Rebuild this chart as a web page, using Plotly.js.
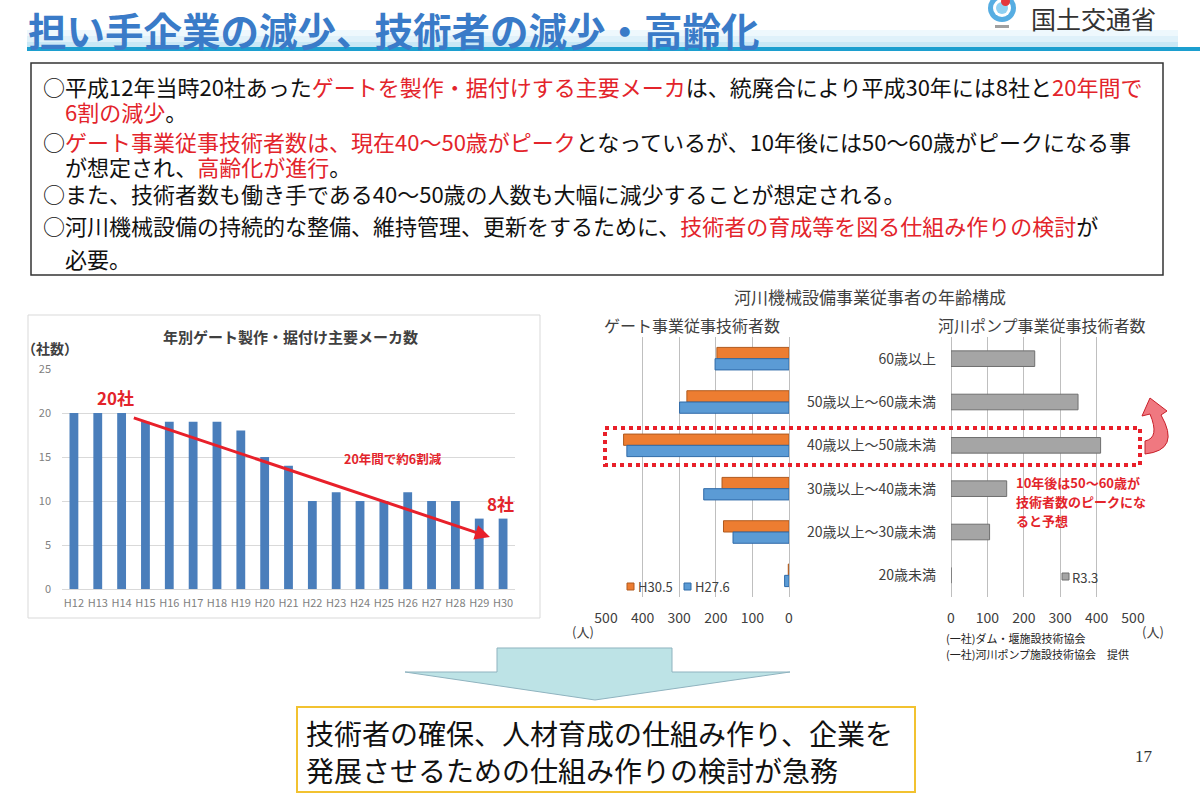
<!DOCTYPE html>
<html>
<head>
<meta charset="utf-8">
<script src="https://cdn.plot.ly/plotly-3.0.1.min.js"></script>
<style>
  body { margin: 0; background: #fff; }
  #slide { width: 1200px; height: 798px; }
</style>
</head>
<body>
<div id="slide"></div>
<script>
// 年別ゲート製作・据付け主要メーカ数
var years = ["H12","H13","H14","H15","H16","H17","H18","H19","H20","H21","H22","H23","H24","H25","H26","H27","H28","H29","H30"];
var makers = [20,20,20,19,19,19,19,18,15,14,10,11,10,10,11,10,10,8,8];

// 河川機械設備事業従事者の年齢構成
var ageGroups = ["60歳以上","50歳以上～60歳未満","40歳以上～50歳未満","30歳以上～40歳未満","20歳以上～30歳未満","20歳未満"];
var gateH305 = [197,279,452,183,179,2];
var gateH276 = [202,299,443,233,153,12];
var pumpR33 = [230,349,411,153,106,0];

var W = 1200, H = 798;
var FONT = "Noto Sans CJK JP";
var RED = "#e3242b";
var ORANGE = "#ed7d31", BLUE = "#5b9bd5", GRAY = "#a5a5a5";

function px(x) { return x / W; }
function py(y) { return 1 - y / H; }
function pt(x, y) { return px(x).toFixed(5) + "," + py(y).toFixed(5); }

function txt(x, y, text, size, color, opt) {
  var a = {
    xref: "paper", yref: "paper", x: px(x), y: py(y),
    text: text, showarrow: false,
    font: {family: FONT, size: size, color: color},
    xanchor: "center", yanchor: "middle", borderpad: 0
  };
  for (var k in (opt || {})) a[k] = opt[k];
  return a;
}

function rect(x0, y0, x1, y1, fill, line, lw) {
  return {
    type: "rect", xref: "paper", yref: "paper",
    x0: px(x0), y0: py(y0), x1: px(x1), y1: py(y1),
    fillcolor: fill, line: {color: line, width: lw}, layer: "below"
  };
}

function shapePath(d, fill, line, lw) {
  return {type: "path", xref: "paper", yref: "paper", path: d,
          fillcolor: fill, line: {color: line, width: lw}};
}

var data = [
  {
    x: years, y: makers, type: "bar", xaxis: "x", yaxis: "y",
    width: 0.37, marker: {color: "#4a7ebb"}, showlegend: false
  },
  {
    name: "H30.5", y: ageGroups, x: gateH305, type: "bar", orientation: "h",
    xaxis: "x2", yaxis: "y2", offset: -0.26, width: 0.26, showlegend: false,
    marker: {color: ORANGE, line: {color: "#b05a1e", width: 1}}
  },
  {
    name: "H27.6", y: ageGroups, x: gateH276, type: "bar", orientation: "h",
    xaxis: "x2", yaxis: "y2", offset: 0, width: 0.26, showlegend: false,
    marker: {color: BLUE, line: {color: "#2f6aa8", width: 1}}
  },
  {
    name: "R3.3", y: ageGroups, x: pumpR33, type: "bar", orientation: "h",
    xaxis: "x3", yaxis: "y3", width: 0.36, showlegend: false,
    marker: {color: GRAY, line: {color: "#6f6f6f", width: 1}}
  }
];

var shapes = [
  // title band
  rect(27, 30, 1178, 36, "#eef8fd", "rgba(0,0,0,0)", 0),
  rect(27, 36, 1178, 42, "#dff1fa", "rgba(0,0,0,0)", 0),
  rect(27, 42, 1178, 47, "#c9e8f6", "rgba(0,0,0,0)", 0),
  rect(27, 47, 1200, 51, "#1c9fcf", "rgba(0,0,0,0)", 0),
  // logo
  {type: "circle", xref: "paper", yref: "paper", x0: px(988), y0: py(-6), x1: px(1016), y1: py(22), fillcolor: "#56ade2", line: {width: 0}},
  {type: "circle", xref: "paper", yref: "paper", x0: px(993), y0: py(-1), x1: px(1011), y1: py(17), fillcolor: "#ffffff", line: {width: 0}},
  {type: "circle", xref: "paper", yref: "paper", x0: px(996), y0: py(2), x1: px(1008), y1: py(14), fillcolor: "#8fd0f2", line: {width: 0}},
  {type: "circle", xref: "paper", yref: "paper", x0: px(1001), y0: py(-3), x1: px(1010), y1: py(6), fillcolor: "#e4363c", line: {width: 0}},
  rect(995, 25, 1009, 28, "#a0a0a0", "rgba(0,0,0,0)", 0),
  // text box
  rect(31, 63, 1163, 275, "rgba(0,0,0,0)", "#333333", 1.5),
  // left chart panel
  rect(28, 315, 540, 618, "rgba(0,0,0,0)", "#d9d9d9", 1),
  // dotted highlight
  {type: "rect", xref: "paper", yref: "paper", x0: px(605), y0: py(428), x1: px(1140), y1: py(465),
   line: {color: "#e8202a", width: 4, dash: "dot"}, fillcolor: "rgba(0,0,0,0)"},
  // curved arrow
  shapePath("M" + pt(1145, 454) + " Q" + pt(1181, 450) + " " + pt(1161, 415) +
            " L" + pt(1167, 411) + " L" + pt(1150, 398) + " L" + pt(1142, 416) +
            " L" + pt(1150, 414) + " Q" + pt(1160, 438) + " " + pt(1145, 441) + " Z",
            "rgba(235,75,85,0.75)", "#c8202a", 1),
  // legend swatches
  rect(627, 583, 634, 590, ORANGE, "#b05a1e", 1),
  rect(684, 583, 691, 590, BLUE, "#2f6aa8", 1),
  rect(1062, 573, 1069, 580, GRAY, "#6f6f6f", 1),
  // down arrow
  shapePath("M" + pt(497, 648) + " L" + pt(672, 648) + " L" + pt(672, 672) + " L" + pt(790, 672) +
            " L" + pt(595, 700) + " L" + pt(405, 672) + " L" + pt(497, 672) + " Z",
            "#bde3e6", "#8fb3bf", 1),
  // bottom box
  rect(297, 707, 915, 792, "#ffffff", "#f2c230", 2)
];

var black = "#111111";
function red(s) { return "<span style='color:" + RED + "'>" + s + "</span>"; }

var annotations = [
  txt(27, 0, "<b>担い手企業の減少、技術者の減少・高齢化</b>", 38.5, "#3a7bc8", {xanchor: "left", yanchor: "top"}),
  txt(1030, 18, "国土交通省", 25, "#333333", {xanchor: "left"}),

  txt(42, 86, "○平成12年当時20社あった" + red("ゲートを製作・据付けする主要メーカ") + "は、統廃合により平成30年には8社と" + red("20年間で"), 22, black, {xanchor: "left"}),
  txt(64, 111, red("6割の減少") + "。", 22, black, {xanchor: "left"}),
  txt(42, 141, "○" + red("ゲート事業従事技術者数は、現在40～50歳がピーク") + "となっているが、10年後には50～60歳がピークになる事", 22, black, {xanchor: "left"}),
  txt(64, 166, "が想定され、" + red("高齢化が進行") + "。", 22, black, {xanchor: "left"}),
  txt(42, 193, "○また、技術者数も働き手である40～50歳の人数も大幅に減少することが想定される。", 22, black, {xanchor: "left"}),
  txt(42, 225, "○河川機械設備の持続的な整備、維持管理、更新をするために、" + red("技術者の育成等を図る仕組み作りの検討") + "が", 22, black, {xanchor: "left"}),
  txt(64, 258, "必要。", 22, black, {xanchor: "left"}),

  // left chart texts
  txt(290, 337, "<b>年別ゲート製作・据付け主要メーカ数</b>", 15, "#404040"),
  txt(50, 348, "<b>（社数）</b>", 14, "#404040"),
  txt(115, 397, "<b>20社</b>", 17, RED),
  txt(500, 503, "<b>8社</b>", 17, RED),
  txt(393, 458, "<b>20年間で約6割減</b>", 12.5, RED),
  {xref: "x", yref: "y", axref: "x", ayref: "y", x: 17.45, y: 5.9, ax: 2.45, ay: 19.5,
   text: "", showarrow: true, arrowhead: 2, arrowsize: 1, arrowwidth: 3, arrowcolor: "#e8202a"},

  // right chart texts
  txt(870, 296, "河川機械設備事業従事者の年齢構成", 17, "#404040"),
  txt(692, 325, "ゲート事業従事技術者数", 16, "#404040"),
  txt(1042, 325, "河川ポンプ事業従事技術者数", 16, "#404040"),
  txt(637, 586, "H30.5", 13, "#404040", {xanchor: "left"}),
  txt(694, 586, "H27.6", 13, "#404040", {xanchor: "left"}),
  txt(1071, 577, "R3.3", 13, "#404040", {xanchor: "left"}),
  txt(583, 631, "(人)", 13, "#404040"),
  txt(1153, 631, "(人)", 13, "#404040"),
  txt(1015, 482, "<b>10年後は50～60歳が</b>", 13, RED, {xanchor: "left"}),
  txt(1015, 501, "<b>技術者数のピークにな</b>", 13, RED, {xanchor: "left"}),
  txt(1015, 520, "<b>ると予想</b>", 13, RED, {xanchor: "left"}),
  txt(945, 638, "(一社)ダム・堰施設技術協会", 11, "#222222", {xanchor: "left"}),
  txt(945, 654, "(一社)河川ポンプ施設技術協会　提供", 11, "#222222", {xanchor: "left"}),

  // bottom
  txt(305, 733, "技術者の確保、人材育成の仕組み作り、企業を", 28, black, {xanchor: "left"}),
  txt(305, 770, "発展させるための仕組み作りの検討が急務", 28, black, {xanchor: "left"}),
  {xref: "paper", yref: "paper", x: px(1155), y: py(768), text: "17", showarrow: false,
   font: {family: "Liberation Serif", size: 17, color: "#333333"}}
];

var axisFont = {family: FONT, size: 14, color: "#404040"};

var layout = {
  width: W, height: H, autosize: false,
  margin: {l: 0, r: 0, t: 0, b: 0},
  paper_bgcolor: "#ffffff", plot_bgcolor: "rgba(0,0,0,0)",
  font: {family: FONT},
  barmode: "group",
  showlegend: false,
  xaxis: {
    domain: [px(62), px(515)], anchor: "y", type: "category",
    showline: true, linecolor: "#d9d9d9", ticks: "", showgrid: false,
    tickfont: {family: FONT, size: 11, color: "#7f7f7f"}, ticklabelstandoff: 4, fixedrange: true
  },
  yaxis: {
    domain: [py(589), py(369)], anchor: "x", range: [0, 25], dtick: 5,
    showgrid: true, gridcolor: "#d9d9d9", zeroline: false, showline: false, ticks: "",
    tickfont: {family: FONT, size: 11, color: "#7f7f7f"}, ticklabelstandoff: 10, fixedrange: true
  },
  xaxis2: {
    domain: [px(606), px(789)], anchor: "y2", range: [500, 0], dtick: 100,
    showgrid: true, gridcolor: "#bfbfbf", zeroline: true, zerolinecolor: "#bfbfbf", zerolinewidth: 1,
    ticks: "", tickfont: axisFont, ticklabelstandoff: 11, fixedrange: true
  },
  yaxis2: {
    domain: [py(597), py(337)], anchor: "x2", type: "category",
    categoryarray: ageGroups, categoryorder: "array", autorange: "reversed",
    showticklabels: false, showgrid: false, zeroline: false, ticks: "", fixedrange: true
  },
  xaxis3: {
    domain: [px(951), px(1133)], anchor: "y3", range: [0, 500], dtick: 100,
    showgrid: true, gridcolor: "#bfbfbf", zeroline: true, zerolinecolor: "#bfbfbf", zerolinewidth: 1,
    ticks: "", tickfont: axisFont, ticklabelstandoff: 11, fixedrange: true
  },
  yaxis3: {
    domain: [py(597), py(337)], anchor: "x3", type: "category",
    categoryarray: ageGroups, categoryorder: "array", autorange: "reversed",
    showgrid: false, zeroline: false, ticks: "", tickfont: axisFont, ticklabelstandoff: 14, fixedrange: true
  },
  shapes: shapes,
  annotations: annotations
};

Plotly.newPlot("slide", data, layout, {displayModeBar: false, staticPlot: true});
</script>
</body>
</html>
